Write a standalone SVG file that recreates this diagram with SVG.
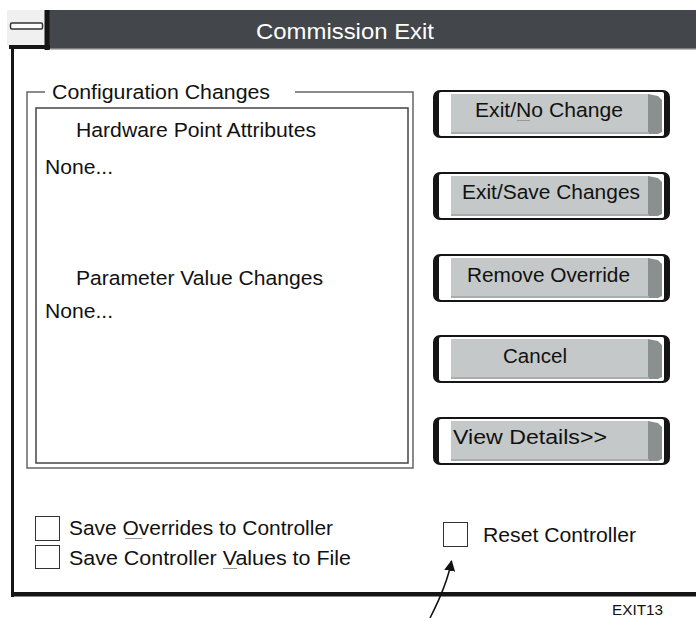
<svg xmlns="http://www.w3.org/2000/svg" width="696" height="618" viewBox="0 0 696 618">
<defs>
<style>
text{font-family:"Liberation Sans",Arial,sans-serif;font-size:20.5px;fill:#111;}
.title{fill:#fff;font-size:22.5px;}
.small{font-size:15px;}
.btn-edge{fill:#151515;}
.btn-face{fill:#c4c8c8;}
.btn-dark{fill:#8a8f8f;}
.btn-light{fill:#ffffff;}
.chk{fill:#fff;stroke:#333;stroke-width:1;}
.ul{stroke:#9a9a9a;stroke-width:1;}
.frame{fill:none;stroke:#666;stroke-width:1.5;}
</style>
<marker id="ah" viewBox="0 0 10 10" refX="9" refY="5" markerWidth="11" markerHeight="11" markerUnits="userSpaceOnUse" orient="auto">
<path d="M0,0 L10,5 L0,10 z" fill="#111"/>
</marker>
<g id="btnshape">
<rect class="btn-edge" x="0" y="0" width="237" height="48" rx="7"/>
<rect class="btn-light" x="6" y="2" width="225" height="44" rx="2"/>
<rect class="btn-face" x="18" y="4" width="198" height="40"/>
<path class="btn-dark" d="M215,4 L225,6 L229,10 L229,42 L225,44 L215,44 z"/>
<rect fill="#a9adad" x="18" y="42" width="198" height="2"/>
</g>
</defs>

<g id="window">
<rect x="0" y="0" width="696" height="618" fill="#fff"/>
<rect x="47" y="10" width="649" height="39" fill="#43474b"/>
<rect x="47" y="48" width="649" height="1.5" fill="#7a7d80"/>
<rect x="7" y="10" width="38" height="36" fill="#f0f0f0"/>
<rect x="44.5" y="10" width="5" height="40" fill="#151515"/>
<rect x="9" y="45" width="41" height="4" fill="#151515"/>
<rect x="10.5" y="23" width="32" height="6" rx="1.5" fill="#fff" stroke="#333" stroke-width="1.5"/>
<rect x="11" y="48" width="3" height="549" fill="#151515"/>
<rect x="11" y="592" width="685" height="4.5" fill="#151515"/>
<text class="title" x="256" y="39" textLength="178" lengthAdjust="spacingAndGlyphs">Commission Exit</text>
</g>

<g id="config-group">
<path class="frame" d="M45,92 L27,92 L27,468 L413,468 L413,92 L295,92"/>
<text x="52" y="99" textLength="218" lengthAdjust="spacingAndGlyphs">Configuration Changes</text>
<rect x="36" y="108" width="372" height="355" fill="#fff" stroke="#444" stroke-width="1.5"/>
<text x="76" y="137" textLength="240" lengthAdjust="spacingAndGlyphs">Hardware Point Attributes</text>
<text x="45" y="174" textLength="68" lengthAdjust="spacingAndGlyphs">None...</text>
<text x="76" y="285" textLength="247" lengthAdjust="spacingAndGlyphs">Parameter Value Changes</text>
<text x="45" y="318" textLength="68" lengthAdjust="spacingAndGlyphs">None...</text>
</g>

<g id="btn-exit-no-change">
<use href="#btnshape" x="433" y="90"/>
<text x="475" y="117" textLength="148" lengthAdjust="spacingAndGlyphs">Exit/No Change</text>
<line class="ul" x1="517" y1="120.5" x2="530" y2="120.5"/>
</g>
<g id="btn-exit-save">
<use href="#btnshape" x="433" y="172"/>
<text x="462" y="199" textLength="178" lengthAdjust="spacingAndGlyphs">Exit/Save Changes</text>
</g>
<g id="btn-remove-override">
<use href="#btnshape" x="433" y="254"/>
<text x="467" y="282" textLength="163" lengthAdjust="spacingAndGlyphs">Remove Override</text>
</g>
<g id="btn-cancel">
<use href="#btnshape" x="433" y="335"/>
<text x="503" y="363" textLength="64" lengthAdjust="spacingAndGlyphs">Cancel</text>
</g>
<g id="btn-view-details">
<use href="#btnshape" x="433" y="417"/>
<text x="453" y="444" textLength="154" lengthAdjust="spacingAndGlyphs">View Details&gt;&gt;</text>
</g>

<g id="chk-save-overrides">
<rect class="chk" x="35.5" y="516.5" width="24" height="24"/>
<text x="69" y="535" textLength="264" lengthAdjust="spacingAndGlyphs">Save Overrides to Controller</text>
<line class="ul" x1="125" y1="538.5" x2="142" y2="538.5"/>
</g>
<g id="chk-save-values">
<rect class="chk" x="35.5" y="545.5" width="24" height="23"/>
<text x="69" y="565" textLength="282" lengthAdjust="spacingAndGlyphs">Save Controller Values to File</text>
<line class="ul" x1="223" y1="568.5" x2="237" y2="568.5"/>
</g>
<g id="chk-reset">
<rect class="chk" x="443.5" y="522.5" width="24" height="24"/>
<text x="483" y="542" textLength="153" lengthAdjust="spacingAndGlyphs">Reset Controller</text>
</g>

<g id="connectors">
<path d="M430,618 Q447,585 451.5,561" fill="none" stroke="#111" stroke-width="1.5" marker-end="url(#ah)"/>
</g>

<g id="label-exit13">
<text class="small" x="612" y="615" textLength="51" lengthAdjust="spacingAndGlyphs">EXIT13</text>
</g>
</svg>
